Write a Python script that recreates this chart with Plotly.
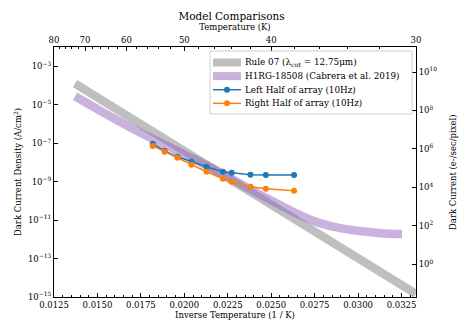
import plotly.graph_objects as go

# inverse temperature (1/K) and dark current density (A/cm^2)
RULE07_X = [0.01371, 0.0200, 0.0250, 0.0300, 0.03333]
RULE07_Y = [1.23e-4, 3.89e-8, 6.31e-11, 1.05e-13, 1.45e-15]

H1RG_X = [0.01371, 0.01687, 0.01975, 0.02205, 0.02378, 0.02551, 0.02666,
          0.02781, 0.02896, 0.03011, 0.03126, 0.03253]
H1RG_Y = [2.75e-5, 6.76e-7, 3.39e-8, 3.09e-9, 4.07e-10, 6.03e-11, 1.82e-11,
          6.92e-12, 3.80e-12, 2.69e-12, 2.09e-12, 1.86e-12]

DATA_X = [0.018182, 0.018868, 0.019608, 0.020408, 0.021277, 0.022222,
          0.022727, 0.023810, 0.024691, 0.026316]
LEFT_Y = [9.3e-8, 4.0e-8, 1.95e-8, 1.07e-8, 5.9e-9, 3.24e-9, 2.88e-9,
          2.3e-9, 2.2e-9, 2.2e-9]
RIGHT_Y = [7.2e-8, 3.55e-8, 1.74e-8, 7.5e-9, 3.24e-9, 1.41e-9, 9.8e-10,
           5.4e-10, 4.2e-10, 3.3e-10]

TEMP_TICKS = [80, 70, 60, 50, 40, 30]
TEMP_MINOR = [78, 76, 74, 72, 68, 66, 64, 62, 58, 56, 54, 52, 48, 46, 44, 42,
              38, 36, 34, 32]
LEFT_EXP = [-15, -13, -11, -9, -7, -5, -3]
RIGHT_EXP = [0, 2, 4, 6, 8, 10]

E_PER_SEC = 13.3  # log10 offset, A/cm^2 -> e-/sec/pixel
Y_RANGE = [-15, -2]
X_RANGE = [1 / 80, 1 / 30]

FONT = 'DejaVu Serif'
GRAY = 'rgba(128,128,128,0.5)'
PURPLE = 'rgba(148,103,189,0.5)'
BLUE = '#1f77b4'
ORANGE = '#ff7f0e'

W, H = 463, 331
L, R, T, B = 54, 47, 47, 34


def px(x):
    return (x - L) / (W - L - R)


def py(y):
    return (H - B - y) / (H - T - B)


def sup(e):
    return '10<sup>%s</sup>' % str(e).replace('-', '\u2212')


fig = go.Figure()

fig.add_trace(go.Scatter(x=RULE07_X, y=RULE07_Y, mode='lines',
                         line={'color': GRAY, 'width': 8.5}, showlegend=False))
fig.add_trace(go.Scatter(x=H1RG_X, y=H1RG_Y, mode='lines',
                         line={'color': PURPLE, 'width': 8.5, 'shape': 'spline'},
                         showlegend=False))
fig.add_trace(go.Scatter(x=DATA_X, y=LEFT_Y, mode='lines+markers',
                         line={'color': BLUE, 'width': 1.5}, marker={'size': 6},
                         showlegend=False))
fig.add_trace(go.Scatter(x=DATA_X, y=RIGHT_Y, mode='lines+markers',
                         line={'color': ORANGE, 'width': 1.5}, marker={'size': 6},
                         showlegend=False))

# dummy traces so the twin axes get drawn
fig.add_trace(go.Scatter(x=[0.02], y=[1e3], yaxis='y2', mode='markers',
                         marker={'opacity': 0}, showlegend=False, hoverinfo='skip'))
fig.add_trace(go.Scatter(x=[0.02], y=[1e-8], xaxis='x2', mode='markers',
                         marker={'opacity': 0}, showlegend=False, hoverinfo='skip'))

# legend drawn by hand (matplotlib-like compact spacing)
legend_items = [
    ('Rule 07 (\u03bb<sub>cut</sub> = 12.75\u03bcm)', GRAY, 'band'),
    ('H1RG-18508 (Cabrera et al. 2019)', PURPLE, 'band'),
    ('Left Half of array (10Hz)', BLUE, 'marker'),
    ('Right Half of array (10Hz)', ORANGE, 'marker'),
]
shapes = [dict(type='rect', xref='paper', yref='paper', x0=px(210), x1=px(412),
               y0=py(114), y1=py(51), fillcolor='white',
               line={'color': '#d0d0d0', 'width': 1}, layer='above')]
annotations = []
for i, (label, color, kind) in enumerate(legend_items):
    yy = 62.5 + 13.6 * i
    if kind == 'band':
        shapes.append(dict(type='rect', xref='paper', yref='paper',
                           x0=px(213), x1=px(241), y0=py(yy + 4), y1=py(yy - 4),
                           fillcolor=color, line={'width': 0}, layer='above'))
    else:
        shapes.append(dict(type='line', xref='paper', yref='paper',
                           x0=px(213), x1=px(241), y0=py(yy), y1=py(yy),
                           line={'color': color, 'width': 1.5}, layer='above'))
        shapes.append(dict(type='circle', xref='paper', yref='paper',
                           xsizemode='pixel', ysizemode='pixel',
                           xanchor=px(227), yanchor=py(yy),
                           x0=-3, x1=3, y0=-3, y1=3, fillcolor=color,
                           line={'width': 0}, layer='above'))
    annotations.append(dict(text=label, xref='paper', yref='paper', x=px(243), y=py(yy),
                            xanchor='left', yanchor='middle', showarrow=False,
                            font={'family': FONT, 'size': 8.8, 'color': 'black'}))

annotations.append(dict(text='Dark Current (e-/sec/pixel)', xref='paper', yref='paper',
                        x=px(453), y=py(172), xanchor='center', yanchor='middle',
                        textangle=-90, showarrow=False,
                        font={'family': FONT, 'size': 8.5, 'color': 'black'}))

axis_common = dict(showline=True, linecolor='black', linewidth=1, ticks='inside',
                   ticklen=4, tickcolor='black', showgrid=False, zeroline=False,
                   automargin=False,
                   tickfont={'family': FONT, 'size': 8.5, 'color': 'black'},
                   title_font={'family': FONT, 'size': 8.5, 'color': 'black'})

fig.update_layout(
    width=W, height=H,
    margin={'l': L, 'r': R, 't': T, 'b': B},
    paper_bgcolor='white', plot_bgcolor='white',
    font={'family': FONT, 'color': 'black'},
    showlegend=False,
    title={'text': 'Model Comparisons', 'x': 0.5, 'xanchor': 'center',
           'y': 1 - 16 / H, 'yanchor': 'middle', 'yref': 'container',
           'font': {'family': FONT, 'size': 10.5}},
    xaxis=dict(axis_common, range=X_RANGE, tick0=0.0125, dtick=0.0025,
               tickformat='.4f', title={'text': 'Inverse Temperature (1 / K)', 'standoff': 2},
               minor={'dtick': 0.0005, 'tick0': 0.0125, 'ticks': 'inside',
                      'ticklen': 2, 'tickcolor': 'black'}),
    xaxis2=dict(axis_common, range=X_RANGE, overlaying='x', side='top',
                tickvals=[1 / t for t in TEMP_TICKS], ticktext=[str(t) for t in TEMP_TICKS],
                title={'text': 'Temperature (K)', 'standoff': 2},
                minor={'tickvals': [1 / t for t in TEMP_MINOR], 'ticks': 'inside',
                       'ticklen': 2, 'tickcolor': 'black'}),
    yaxis=dict(axis_common, type='log', range=Y_RANGE,
               tickvals=[10.0 ** e for e in LEFT_EXP], ticktext=[sup(e) for e in LEFT_EXP],
               title={'text': 'Dark Current Density (A/cm<sup>2</sup>)', 'standoff': 4}),
    yaxis2=dict(axis_common, type='log', overlaying='y', side='right',
                range=[Y_RANGE[0] + E_PER_SEC, Y_RANGE[1] + E_PER_SEC],
                tickvals=[10.0 ** e for e in RIGHT_EXP], ticktext=[sup(e) for e in RIGHT_EXP]),
    shapes=shapes,
    annotations=annotations,
)

# the page's default body margin would shift the figure inside the window
fig.write_html("out.html", config={'displayModeBar': False},
               post_script="document.body.style.margin='0';")
